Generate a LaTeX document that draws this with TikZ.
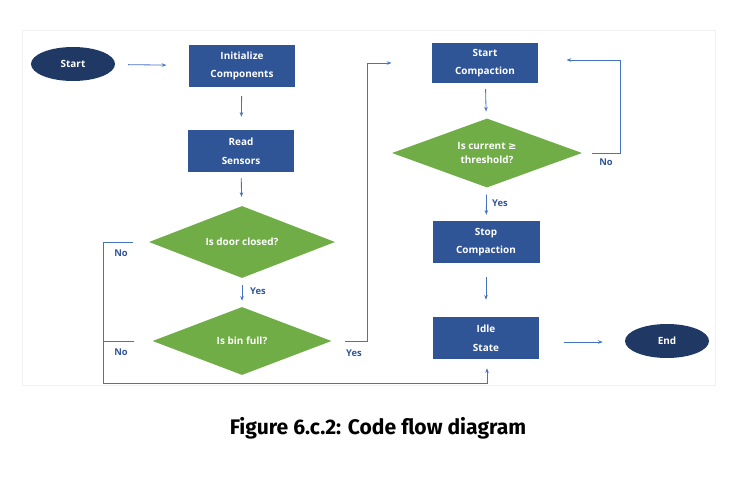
\documentclass[tikz,border=0pt]{standalone}
\usepackage{fontspec}
\setmainfont{Open Sans}
\newfontfamily\symfont{DejaVu Sans}
\newfontfamily\capfont{Fira Sans}
\usepackage{tikz}
\usetikzlibrary{arrows.meta, shapes.geometric}
\definecolor{my_navy}{HTML}{203864}
\definecolor{my_blue}{HTML}{2F5597}
\definecolor{my_line}{HTML}{4472C4}
\definecolor{my_green}{HTML}{70AD47}
\definecolor{my_frame}{HTML}{F0F1F3}

\begin{document}
\begin{tikzpicture}[
    x=0.03cm, y=-0.03cm,
    procbox/.style={fill=my_blue, text=white, minimum width=3.2cm, minimum height=1.26cm,
        align=center, font=\fontsize{8.5}{16}\selectfont\bfseries},
    terminal/.style={ellipse, fill=my_navy, text=white, minimum width=2.52cm, minimum height=1.02cm,
        font=\fontsize{8.5}{10}\selectfont\bfseries},
    decision/.style={diamond, fill=my_green, text=white, aspect=2.6, inner sep=0pt,
        align=center, font=\fontsize{8.5}{12}\selectfont\bfseries},
    flow/.style={draw=my_line, line width=0.7pt, -{Stealth[length=4pt, width=3pt]}},
    plain/.style={draw=my_line, line width=0.7pt},
    answer/.style={text=my_blue, font=\fontsize{8}{10}\selectfont\bfseries}
]
\useasboundingbox (0,0) rectangle (745,479);

%% ================================================================
%% Rahmen
%% ================================================================
\draw[my_frame, line width=0.8pt] (22,30) rectangle (715,385);

%% ================================================================
%% LINKE SPALTE
%% ================================================================
\node[terminal] (start) at (73,64) {Start};
\node[procbox] (init) at (242,66) {Initialize\\Components};
\node[procbox] (read) at (241,151) {Read\\Sensors};
\node[decision, minimum width=5.58cm, minimum height=2.16cm] (door) at (242,242) {Is door closed?};
\node[decision, minimum width=5.37cm, minimum height=2.04cm] (bin) at (242,341) {Is bin full?};

%% ================================================================
%% RECHTE SPALTE
%% ================================================================
\node[procbox, minimum height=1.2cm] (startc) at (485,63) {Start\\Compaction};
\node[decision, minimum width=5.7cm, minimum height=2.07cm] (current) at (487,153)
    {Is current {\symfont\bfseries ≥}\\threshold?};
\node[procbox, minimum width=3.21cm] (stopc) at (486,242) {Stop\\Compaction};
\node[procbox, minimum width=3.18cm] (idle) at (486,338) {Idle\\State};
\node[terminal] (end) at (667,341) {End};

\coordinate (loopcorner) at (103,383);

%% ================================================================
%% Verbindungen
%% ================================================================
\draw[flow, shorten <=0.39cm, shorten >=0.66cm] (start) -- (init);
\draw[flow, shorten <=0.27cm, shorten >=0.39cm] (init) -- (read);
\draw[flow, shorten <=0.18cm, shorten >=0.27cm] (read) -- (door);
\draw[flow, shorten <=0.21cm, shorten >=0.18cm] (door) -- (bin);
\draw[flow, shorten <=0.39cm, shorten >=1.2cm]
    (bin.east) -- ++(36,0) |- (startc.west);
\draw[flow, shorten <=0.18cm, shorten >=0.21cm] (startc) -- (current);
\draw[flow, shorten <=0.3cm, shorten >=0.84cm]
    (current.east) -- ++(38,0) |- ([yshift=0.09cm]startc.east);
\draw[flow, shorten <=0.21cm, shorten >=0.18cm] (current) -- (stopc);
\draw[flow, shorten <=0.42cm, shorten >=0.51cm] (stopc) -- (idle);
\draw[flow, shorten <=0.75cm, shorten >=0.66cm] ([yshift=-0.12cm]idle.east) -- ([yshift=-0.03cm]end.west);

%% --- Nein-Zweige zurueck zu Idle State ---
\draw[flow, shorten <=0.48cm, shorten >=0.27cm]
    (door.west) -| (loopcorner) -| ([xshift=0.03cm]idle.south);
\draw[plain, shorten <=0.54cm] (bin.west) -- (bin.west -| loopcorner);

%% --- Beschriftungen ---
\node[answer] at (121,253) {No};
\node[answer] at (121,352) {No};
\node[answer] at (258,291) {Yes};
\node[answer] at (354,353) {Yes};
\node[answer] at (606,162) {No};
\node[answer] at (500,203) {Yes};

%% ================================================================
%% Bildunterschrift
%% ================================================================
\node[font=\capfont\fontsize{18}{20}\selectfont\bfseries] (caption) at (378,428)
    {Figure 6.c.2: Code flow diagram};

\end{tikzpicture}
\end{document}
